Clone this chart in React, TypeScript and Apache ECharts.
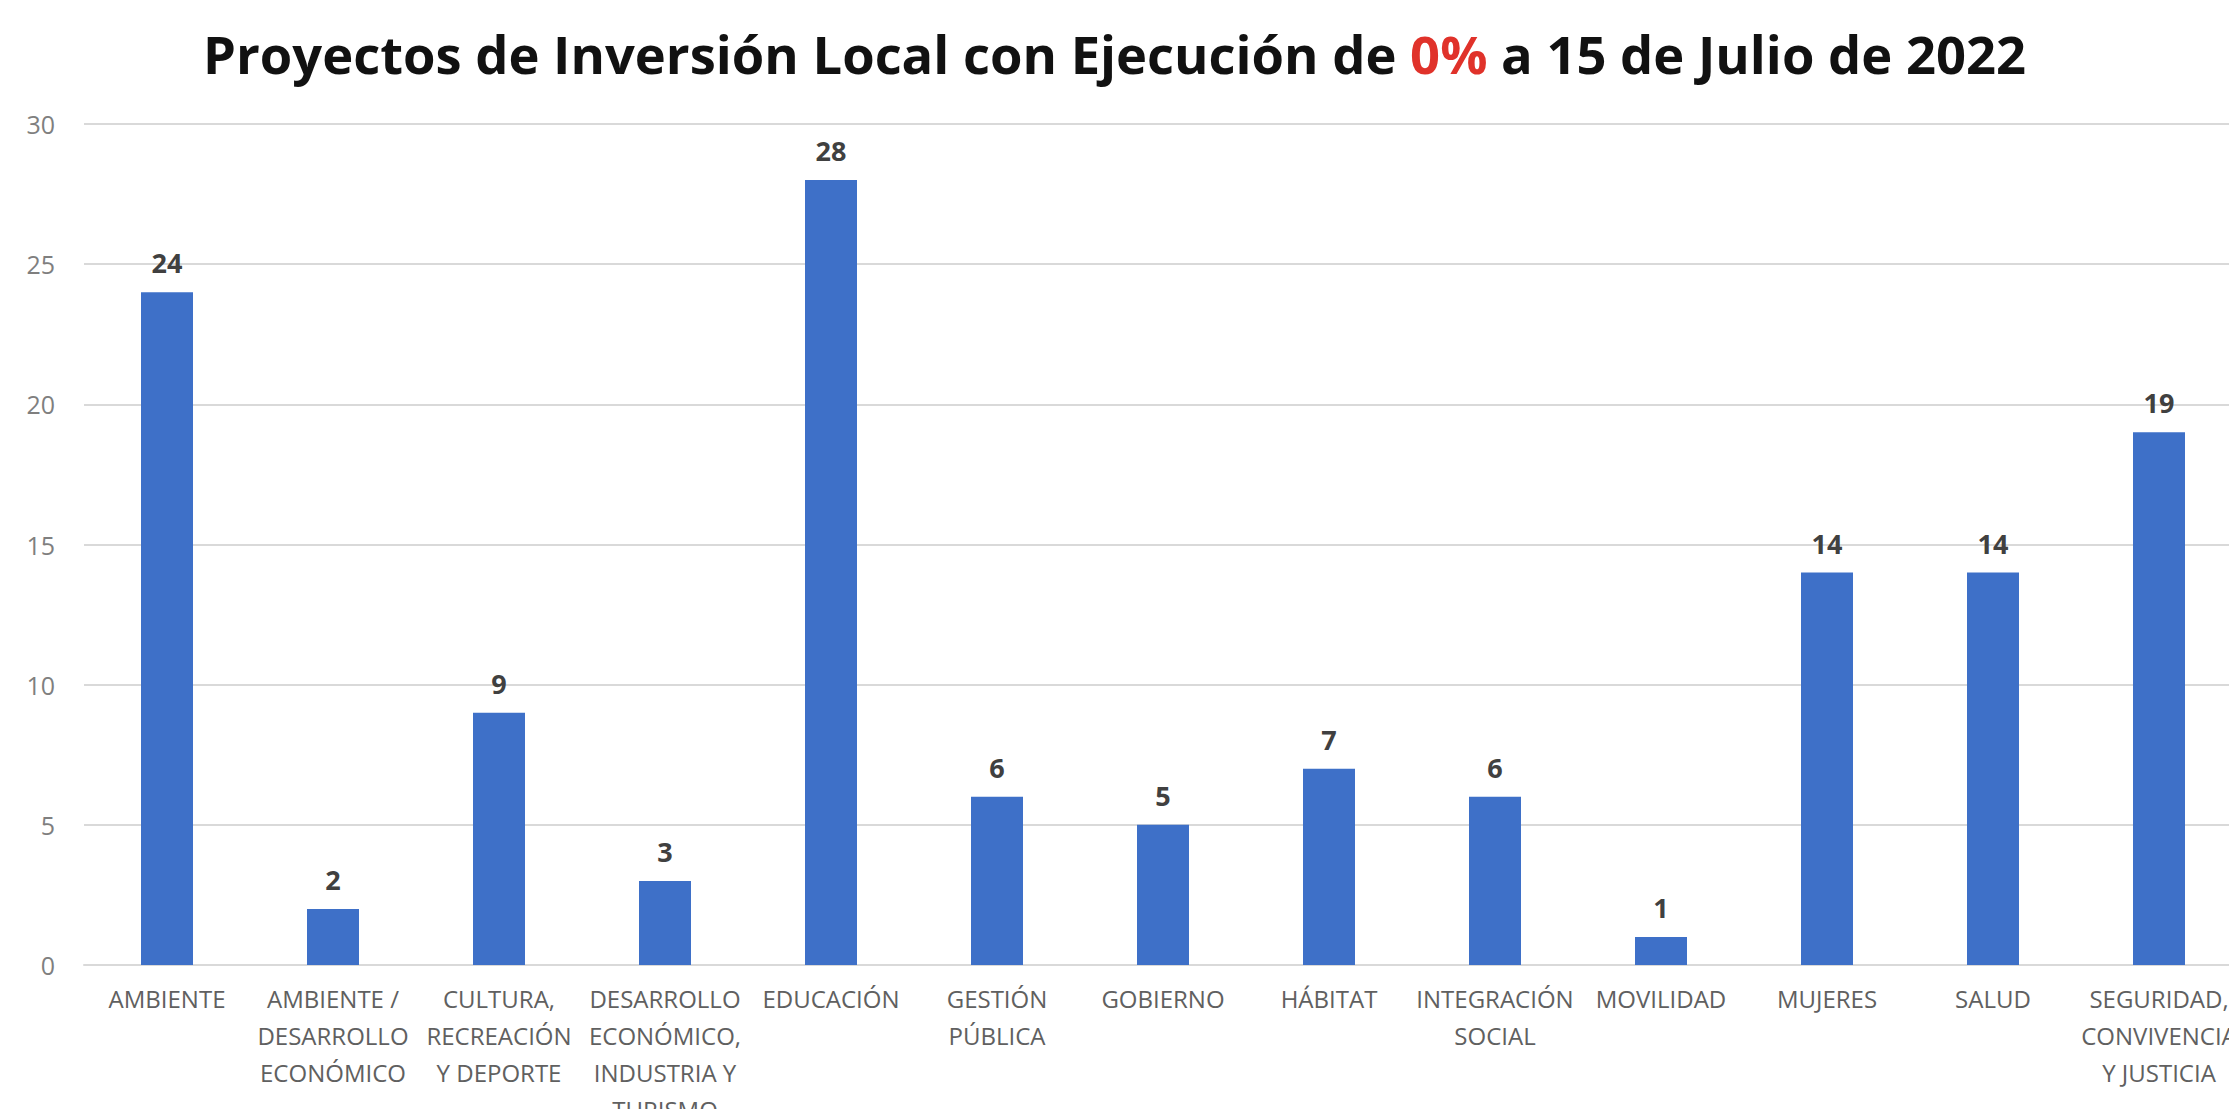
import React, { useEffect, useRef } from "react";
import * as echarts from "echarts";

const titleBefore = "Proyectos de Inversión Local con Ejecución de ";
const titleRed = "0%";
const titleAfter = " a 15 de Julio de 2022";

const categories: string[] = [
  "AMBIENTE",
  "AMBIENTE /\nDESARROLLO\nECONÓMICO",
  "CULTURA,\nRECREACIÓN\nY DEPORTE",
  "DESARROLLO\nECONÓMICO,\nINDUSTRIA Y\nTURISMO",
  "EDUCACIÓN",
  "GESTIÓN\nPÚBLICA",
  "GOBIERNO",
  "HÁBITAT",
  "INTEGRACIÓN\nSOCIAL",
  "MOVILIDAD",
  "MUJERES",
  "SALUD",
  "SEGURIDAD,\nCONVIVENCIA\nY JUSTICIA",
];

const values: number[] = [24, 2, 9, 3, 28, 6, 5, 7, 6, 1, 14, 14, 19];

const yMin = 0;
const yMax = 30;
const yInterval = 5;

const FONT = "'Open Sans', 'Noto Sans', 'Liberation Sans', sans-serif";

export default function App() {
  const ref = useRef<HTMLDivElement>(null);

  useEffect(() => {
    if (!ref.current) return;
    const chart = echarts.init(ref.current, null, { renderer: "svg" });
    chart.setOption({
      animation: false,
      backgroundColor: "#ffffff",
      title: {
        text: `${titleBefore}{r|${titleRed}}${titleAfter}`,
        left: "center",
        top: 22,
        textStyle: {
          fontFamily: FONT,
          fontSize: 52.5,
          fontWeight: "bold",
          color: "#111111",
          rich: {
            r: {
              fontFamily: FONT,
              fontSize: 52.5,
              fontWeight: "bold",
              color: "#e0322a",
            },
          },
        },
      },
      grid: {
        left: 84,
        right: -13,
        top: 124,
        bottom: 144,
        containLabel: false,
        outerBoundsMode: "none",
      },
      xAxis: {
        type: "category",
        data: categories,
        axisTick: { show: false },
        axisLine: { show: true, lineStyle: { color: "#d9d9d9", width: 2 } },
        axisLabel: {
          interval: 0,
          margin: 15,
          fontFamily: FONT,
          fontSize: 24,
          lineHeight: 37,
          color: "#606060",
          hideOverlap: false,
        },
      },
      yAxis: {
        type: "value",
        min: yMin,
        max: yMax,
        interval: yInterval,
        axisLine: { show: false },
        axisTick: { show: false },
        splitLine: { lineStyle: { color: "#d9d9d9", width: 2 } },
        axisLabel: {
          margin: 29,
          fontFamily: FONT,
          fontSize: 25,
          color: "#7f7f7f",
        },
      },
      series: [
        {
          type: "bar",
          data: values,
          barWidth: 52,
          itemStyle: { color: "#3e70c8" },
          label: {
            show: true,
            position: "top",
            distance: 16,
            fontFamily: FONT,
            fontSize: 27,
            fontWeight: "bold",
            color: "#404040",
          },
        },
      ],
    });
    return () => chart.dispose();
  }, []);

  return (
    <div
      ref={ref}
      style={{
        position: "absolute",
        left: 0,
        top: 0,
        width: 2229,
        height: 1109,
        background: "#ffffff",
      }}
    />
  );
}
